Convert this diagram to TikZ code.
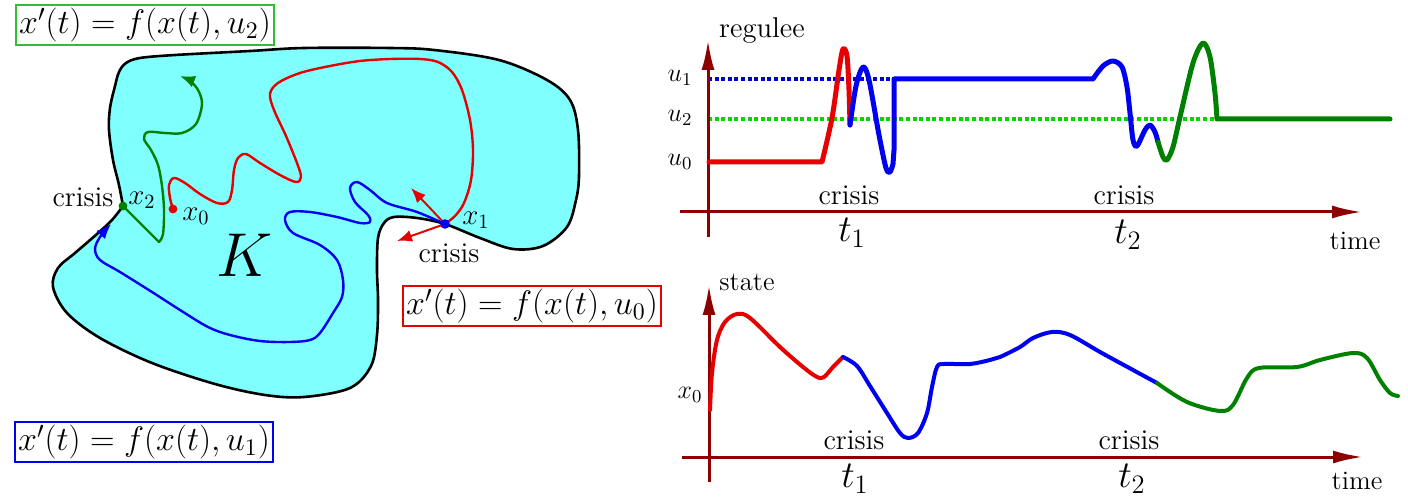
\RequirePackage{fix-cm}
\documentclass[tikz,border=0pt]{standalone}
\usetikzlibrary{arrows.meta}
\definecolor{kcyan}{RGB}{128,255,255}
\definecolor{axred}{RGB}{140,0,0}
\definecolor{dgreen}{RGB}{0,128,0}
\definecolor{bgreen}{RGB}{50,190,50}
\definecolor{dotgreen}{RGB}{0,215,0}
\definecolor{dotblue}{RGB}{0,0,210}
\definecolor{cred}{RGB}{230,0,0}
\definecolor{cblue}{RGB}{0,0,240}
\tikzset{
  axisline/.style={line width=1.5pt, draw=axred, -{Latex[length=15pt,width=6.5pt]}},
  eqbox/.style={draw, line width=0.9pt, inner sep=1.5pt, font=\fontsize{17}{20}\selectfont},
  lbl/.style={inner sep=0pt, font=\fontsize{14.3}{16}\selectfont},
  smlbl/.style={inner sep=0pt, font=\fontsize{13.3}{15}\selectfont},
  mlbl/.style={inner sep=0pt, font=\fontsize{14.5}{17}\selectfont},
  ulbl/.style={inner sep=0pt, font=\fontsize{13}{15}\selectfont},
  tlbl/.style={inner sep=0pt, font=\fontsize{19}{22}\selectfont},
  traj/.style={line width=1.2pt, line join=round, line cap=round},
  topcurve/.style={line width=2.5pt, line join=round, line cap=round},
  botcurve/.style={line width=2pt, line join=round, line cap=round},
  dotline/.style={line width=1.6pt, dash pattern=on 2pt off 1.3pt},
  tip/.style={-{Latex[length=7.5pt,width=6pt]}},
}
\begin{document}
\begin{tikzpicture}[x=0.5pt,y=-0.5pt]
\useasboundingbox (0,0) rectangle (1408,497);

% ---------------- left panel ----------------
\coordinate (x2) at (123,206);
\coordinate (x1) at (445,224);
\coordinate (x0) at (173,209);

\filldraw[fill=kcyan, draw=black, line width=1.3pt, line join=round]
  plot[smooth, tension=0.55] coordinates {(123,206) (119,185) (113,160) (109,130) (110,108) (115,86) (119,72) (126,63) (140,58) (175,55) (250,51) (304,48) (390,48) (434,50) (499,60) (547,80) (570,100) (578,130) (579,176) (576,200) (567,227) (543,246) (513,249) (480,238) (445,224) (417,218) (394,217) (384,223) (378,238) (377,270) (378,300) (377,335) (371,366) (350,388) (304,397) (265,395) (215,384) (152,363) (100,338) (67,313) (53,287) (58,268) (75,253) (97,234) (112,220) (123,206)} -- cycle;

% green trajectory
\draw[traj, dgreen, tip] (x2) -- (159,242)
  -- plot[smooth, tension=0.55] coordinates {(159,242) (163,234) (164,210) (162,186) (158,165) (151,150) (144,139) (148,132) (165,133) (182,133) (196,124) (202,104) (198,90) (190,81) (180,76)};

% red trajectory
\draw[traj, cred]
  plot[smooth, tension=0.55] coordinates {(173,209) (170,198) (169,185) (174,178) (185,183) (200,194) (217,203) (228,202) (232,190) (234,170) (238,158) (246,154) (260,163) (280,175) (296,182) (301,177) (297,163) (286,136) (274,110) (270,94) (278,83) (300,73) (330,66) (360,61) (390,59) (420,59) (438,62) (452,72) (462,90) (470,120) (473,150) (471,180) (464,203) (455,216) (445,224)};

% blue trajectory
\draw[traj, cblue, tip]
  plot[smooth, tension=0.55] coordinates {(445,224) (417,212) (387,203) (370,190) (357,182) (350,188) (355,202) (368,215) (370,222) (360,223) (337,217) (310,212) (290,212) (285,220) (293,233) (320,245) (337,260) (343,280) (342,297) (333,313) (320,333) (310,340) (290,342) (260,341) (230,335) (208,327) (180,310) (152,292) (120,272) (100,260) (95,249) (100,237) (111,224)};

% red arrows at x1
\coordinate (a1) at (411,188);
\coordinate (a2) at (397,241);
\draw[traj, cred, tip, line width=1pt] (x1) -- (a1);
\draw[traj, cred, tip, line width=1pt] (x1) -- (a2);

% dots
\fill[cred] (x0) circle (2.2pt);
\fill[dgreen] (x2) circle (2.2pt);
\fill[cblue] (x1) circle (2.4pt);

% labels
\node[lbl] (crL) at (83,197) {crisis};
\node[mlbl] (x2l) at (142,200) {$x_2$};
\node[mlbl] (x0l) at (196,216) {$x_0$};
\node[mlbl] (x1l) at (476,220) {$x_1$};
\node[lbl] (crR) at (449,253) {crisis};
\node[inner sep=0pt, font=\fontsize{31}{34}\selectfont] (K) at (245,255) {$K$};

\node[eqbox, draw=bgreen] (eq2) at (145,25) {$x'(t)=f(x(t),u_2)$};
\node[eqbox, draw=cblue] (eq1) at (144,442) {$x'(t)=f(x(t),u_1)$};
\node[eqbox, draw=cred] (eq0) at (532,306) {$x'(t)=f(x(t),u_0)$};

% ---------------- top right: regulee ----------------
\coordinate (ty0) at (708,237);
\coordinate (ty1) at (708,40);
\coordinate (tx0) at (680,212);
\coordinate (tx1) at (1362,212);

\draw[dotline, dotblue] (708,79) -- (894,79);
\draw[dotline, dotgreen] (708,119) -- (1217,119);

\draw[axisline] (ty0) -- (ty1);
\draw[axisline] (tx0) -- (tx1);

\draw[topcurve, cred] (709,162) -- (822,162)
  -- plot[smooth, tension=0.5] coordinates {(822,162) (832,118) (839,70) (843,49) (847,56) (849,90) (850,125)};
\draw[topcurve, cblue]
  plot[smooth, tension=0.5] coordinates {(850,125) (856,86) (863,67) (869,80) (879,135) (886,168) (890,172) (893,164)} -- (894,150) -- (894,79) -- (1093,79)
  -- plot[smooth, tension=0.5] coordinates {(1093,79) (1103,66) (1113,61) (1122,67) (1127,87) (1130,113) (1133,140) (1137,146) (1145,130) (1150,125) (1155,132) (1158,142)};
\draw[topcurve, dgreen]
  plot[smooth, tension=0.5] coordinates {(1158,142) (1163,157) (1167,160) (1173,147) (1180,117) (1193,63) (1203,43) (1210,57) (1215,93) (1217,119)} -- (1390,119);

\node[lbl] (reg) at (762,31) {regulee};
\node[ulbl] (u1) at (680,78) {$u_1$};
\node[ulbl] (u2) at (680,118) {$u_2$};
\node[ulbl] (u0) at (680,162) {$u_0$};
\node[lbl] (c1) at (849,195) {crisis};
\node[lbl] (c2) at (1124,195) {crisis};
\node[tlbl] (t1) at (852,233) {$t_1$};
\node[tlbl] (t2) at (1128,235) {$t_2$};
\node[smlbl] (time1) at (1355,241) {time};

% ---------------- bottom right: state ----------------
\coordinate (by0) at (709,482);
\coordinate (by1) at (709,285);
\coordinate (bx0) at (682,457);
\coordinate (bx1) at (1363,457);
\draw[axisline] (by0) -- (by1);
\draw[axisline] (bx0) -- (bx1);

\draw[botcurve, cred]
  plot[smooth, tension=0.55] coordinates {(710,410) (712,373) (717,340) (725,322) (737,314) (750,318) (780,347) (803,367) (817,377) (824,377) (833,367) (843,357)};
\draw[botcurve, cblue]
  plot[smooth, tension=0.55] coordinates {(843,357) (857,366) (870,386) (887,413) (900,433) (908,438) (918,433) (927,413) (932,387) (937,367) (944,364) (970,364) (990,360) (1000,357) (1020,347) (1033,338) (1052,332) (1070,335) (1100,352) (1133,370) (1157,383)};
\draw[botcurve, dgreen]
  plot[smooth, tension=0.55] coordinates {(1157,383) (1187,402) (1220,411) (1233,405) (1247,378) (1259,368) (1297,367) (1320,360) (1353,353) (1367,358) (1380,380) (1390,393) (1398,396)};

\node[smlbl] (state) at (747,282) {state};
\node[ulbl] (xz) at (690,395) {$x_0$};
\node[lbl] (c3) at (854,440) {crisis};
\node[lbl] (c4) at (1129,440) {crisis};
\node[tlbl] (t3) at (855,479) {$t_1$};
\node[tlbl] (t4) at (1132,479) {$t_2$};
\node[smlbl] (time2) at (1357,481) {time};
\end{tikzpicture}
\end{document}
